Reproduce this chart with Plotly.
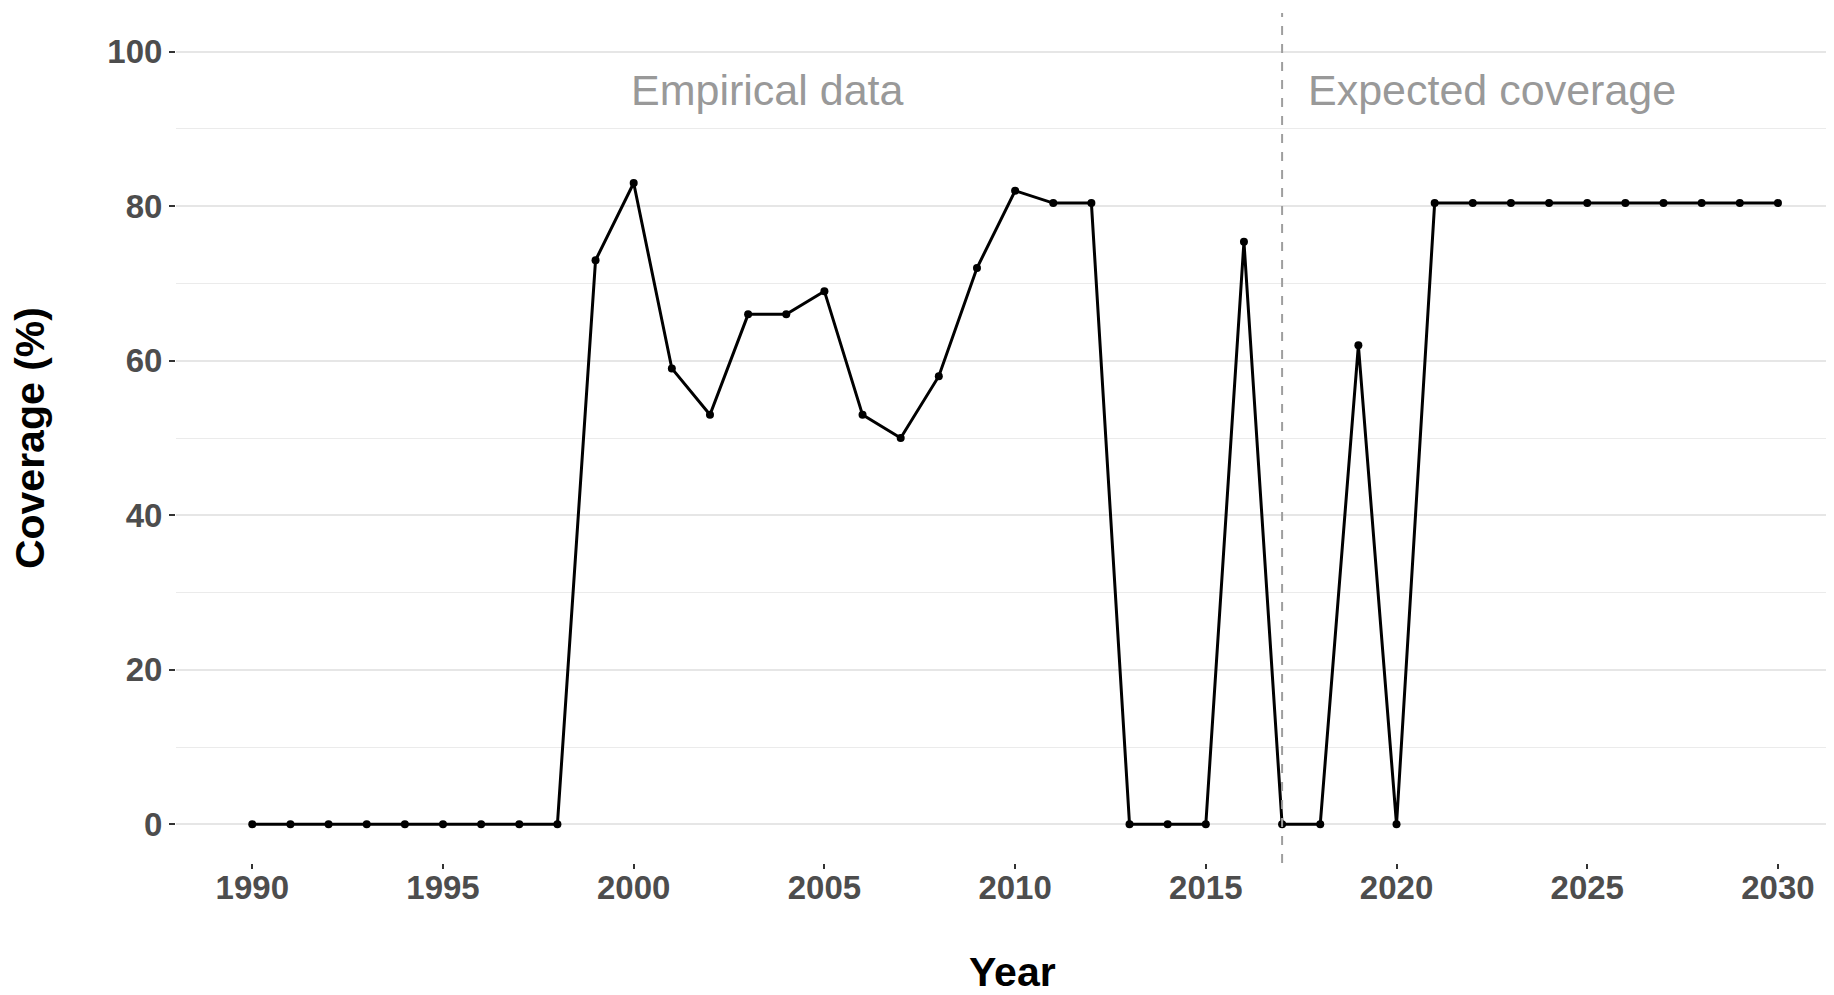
import plotly.graph_objects as go

# coverage by year (empirical up to 2017, expected after)
years = list(range(1990, 2031))
coverage = [0, 0, 0, 0, 0, 0, 0, 0, 0,
            73, 83, 59, 53, 66, 66, 69, 53, 50, 58, 72, 82, 80.4, 80.4,
            0, 0, 0, 75.4, 0, 0, 62, 0,
            80.4, 80.4, 80.4, 80.4, 80.4, 80.4, 80.4, 80.4, 80.4, 80.4]

split_year = 2017
region_labels = ["Empirical data", "Expected coverage"]
region_x = [2003.5, 2022.5]
region_y = [95, 95]

FONT = "Liberation Sans, Arial, sans-serif"

fig = go.Figure()
fig.add_trace(go.Scatter(
    x=years, y=coverage,
    mode="lines+markers",
    line=dict(color="black", width=3),
    marker=dict(color="black", size=8),
    showlegend=False,
    hoverinfo="x+y"
))

# vertical split line
fig.add_shape(type="line", xref="x", yref="paper",
              x0=split_year, x1=split_year, y0=0, y1=1,
              line=dict(color="#9e9e9e", width=2, dash="9px,9px"),
              layer="above")

for txt, xv, yv in zip(region_labels, region_x, region_y):
    fig.add_annotation(x=xv, y=yv, text=txt, showarrow=False,
                       xanchor="center", yanchor="middle",
                       font=dict(family=FONT, size=43, color="#999999"))

# axis titles as annotations to place them like the reference
fig.add_annotation(xref="paper", yref="paper", x=-0.088, y=0.5,
                   text="<b>Coverage (%)</b>", textangle=-90, showarrow=False,
                   xanchor="center", yanchor="middle",
                   font=dict(family=FONT, size=41, color="black"))
fig.add_annotation(xref="paper", yref="paper", x=0.5048, y=-0.128,
                   text="<b>Year</b>", showarrow=False,
                   xanchor="center", yanchor="middle",
                   font=dict(family=FONT, size=41, color="black"))

fig.update_xaxes(
    range=[1988, 2031.47],
    tickvals=[1990, 1995, 2000, 2005, 2010, 2015, 2020, 2025, 2030],
    showgrid=False, zeroline=False, showline=False,
    ticks="outside", ticklen=5, tickwidth=2, tickcolor="#333333",
    ticklabelstandoff=-10,
    tickfont=dict(family=FONT, size=33, color="#4d4d4d", weight="bold"),
)
fig.update_yaxes(
    range=[-5, 105],
    tickvals=[0, 20, 40, 60, 80, 100],
    showgrid=True, gridcolor="#e6e6e6", gridwidth=2,
    minor=dict(tickvals=[10, 30, 50, 70, 90], showgrid=True,
               gridcolor="#ebebeb", gridwidth=1.2, ticks=""),
    zeroline=False, showline=False,
    ticks="outside", ticklen=6, tickwidth=2, tickcolor="#333333",
    tickfont=dict(family=FONT, size=33, color="#4d4d4d", weight="bold"),
)

# page body has an 8px margin, so the figure is sized to fit inside it
fig.update_layout(
    width=1826, height=987,
    margin=dict(l=168, r=0, t=5, b=132),
    plot_bgcolor="white", paper_bgcolor="white",
    font=dict(family=FONT),
)

fig.write_html("out.html")
